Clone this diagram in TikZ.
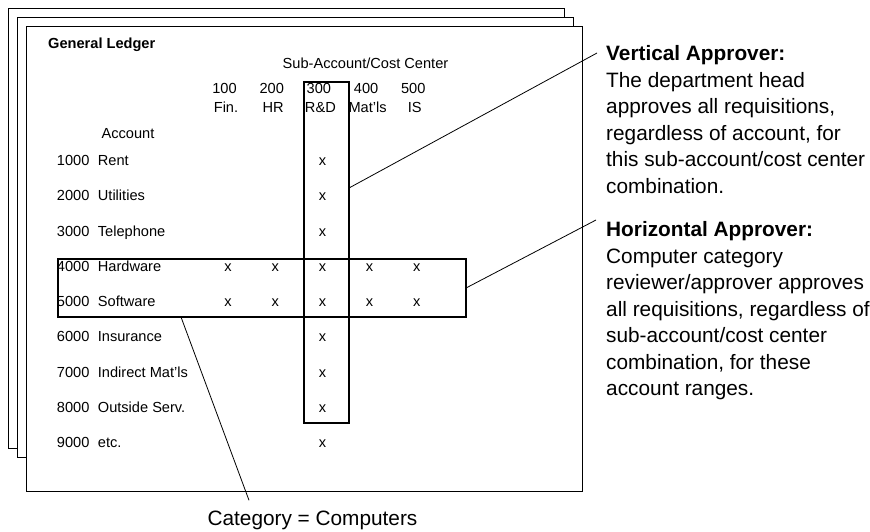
\documentclass[tikz,border=0pt]{standalone}
\usepackage{fontspec}
\setmainfont{Liberation Sans}
\usetikzlibrary{positioning}
\tikzset{page/.style={draw=black, fill=white, line width=0.9pt},
selbox/.style={draw=black, line width=1.8pt, inner sep=0pt, outer sep=0pt},
leader/.style={draw=black, line width=0.8pt},
small/.style={font=\fontsize{14.6}{17.5}\selectfont, inner sep=0pt},
%notes on the right
note/.style={font=\fontsize{20.8}{26.5}\selectfont, inner sep=0pt, align=left},
big/.style={font=\fontsize{20.8}{26.5}\selectfont, inner sep=0pt}}

\begin{document}
\begin{tikzpicture}[x=1pt, y=-1pt]
\useasboundingbox (0,0) rectangle (870,531);

% stack of ledger pages
\draw[page] (8,8) rectangle (564,448);
\draw[page] (17,17) rectangle (573,457);
\draw[page] (26,26) rectangle (582,491);

\node[small, anchor=base west] (ledger) at (48,48.3) {\textbf{General Ledger}};
\node[small, anchor=base] (subacc) at (365.5,68.3) {Sub-Account/Cost Center};
\node[small, anchor=base] (acct) at (128,138.5) {Account};

\foreach \no/\dep [count=\j] in {100/Fin., 200/HR, 300/R\&D, 400/Mat'ls, 500/IS} {
  \node[small, anchor=base] (cc\j) at ({224.5+47.2*(\j-1)}, 93.3) {\no};
  \node[small, anchor=base] (dep\j) at ({226+47.2*(\j-1)}, 112.6) {\dep};
}

\foreach \num/\acc [count=\i] in {1000/Rent, 2000/Utilities, 3000/Telephone, 4000/Hardware, 5000/Software, 6000/Insurance, 7000/Indirect Mat’ls, 8000/Outside Serv., 9000/etc.} {
  \node[small, anchor=base west] (num\i) at (56.7, {165.5+35.25*(\i-1)}) {\num};
  \node[small, anchor=base west] (acc\i) at (97.7, {165.5+35.25*(\i-1)}) {\acc};
  \node[small, anchor=base] (x\i) at (322.4, {165.5+35.25*(\i-1)}) {x};
}
\foreach \i in {4,5}
  \foreach \j in {1,2,4,5}
    \node[small, anchor=base] (x\i-\j) at ({228+47.2*(\j-1)}, {165.5+35.25*(\i-1)}) {x};

% approver boxes
\node[selbox, minimum width=45, minimum height=341] (vbox) at (326.5,252.5) {};
\node[selbox, minimum width=408, minimum height=58] (hbox) at (262,288) {};

\node[note, anchor=north west] (vnote) at (606,45.5) {\textbf{Vertical Approver:}\\The department head\\approves all requisitions,\\regardless of account, for\\this sub-account/cost center\\combination.};
\node[note, anchor=north west] (hnote) at (606,221.5) {\textbf{Horizontal Approver:}\\Computer category\\reviewer/approver approves\\all requisitions, regardless of\\sub-account/cost center\\combination, for these\\account ranges.};
\node[big, anchor=base] (cat) at (312.5,525) {Category = Computers};

\draw[leader] ([yshift=64.5pt]vbox.east) -- ([shift={(-9,7.5)}]vnote.north west);
\draw[leader] (hbox.east) -- ([shift={(-10,-1.5)}]hnote.north west);
\draw[leader] ([xshift=-81pt]hbox.south) -- ([shift={(-63.5,-10)}]cat.north);

\end{tikzpicture}
\end{document}
